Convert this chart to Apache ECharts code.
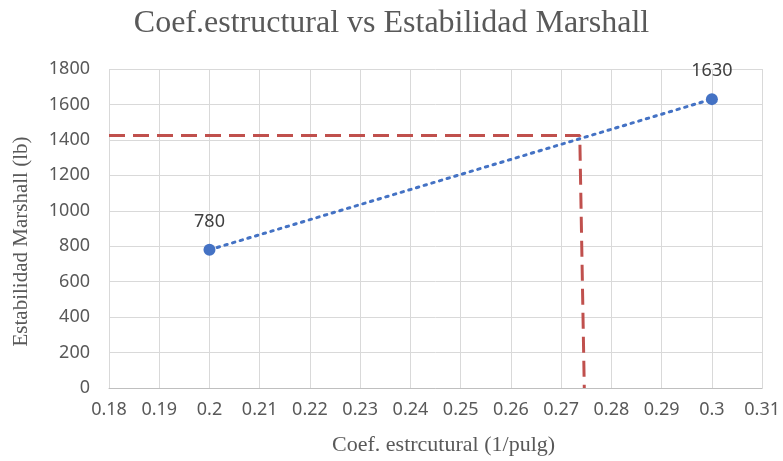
<!DOCTYPE html>
<html>
<head>
<meta charset="utf-8">
<script src="https://cdn.jsdelivr.net/npm/echarts@6/dist/echarts.min.js"></script>
<style>
  html, body { margin: 0; padding: 0; background: #fff; }
  #chart { width: 783px; height: 461px; }
</style>
</head>
<body>
<div id="chart"></div>
<script>
// Measured points: structural coefficient vs Marshall stability
const coefValues = [0.2, 0.3];
const stabilityValues = [780, 1630];

// Reading guide: target stability and the coefficient it maps to
const guideStability = 1425;
const guideCoefTop = 0.2737;
const guideCoefBottom = 0.2746;

// Axis ranges and tick steps
const xMin = 0.18, xMax = 0.31, xStep = 0.01;
const yMin = 0, yMax = 1800, yStep = 200;

const serif = '"Liberation Serif", "Times New Roman", serif';
const sans = '"Noto Sans", "Open Sans", Arial, sans-serif';

const points = coefValues.map((c, i) => [c, stabilityValues[i]]);

const chart = echarts.init(document.getElementById('chart'), null, { renderer: 'canvas' });
chart.setOption({
  animation: false,
  backgroundColor: '#ffffff',
  title: {
    text: 'Coef.estructural vs Estabilidad Marshall',
    left: 'center',
    top: 3,
    textStyle: { fontFamily: serif, fontSize: 32, fontWeight: 'normal', color: '#595959' }
  },
  grid: { left: 109, right: 16, top: 69, bottom: 72 },
  xAxis: {
    type: 'value',
    min: xMin, max: xMax, interval: xStep,
    name: 'Coef. estrcutural (1/pulg)',
    nameLocation: 'middle',
    nameGap: 46,
    nameTextStyle: { fontFamily: serif, fontSize: 22, color: '#595959', padding: [0, 0, 0, 16] },
    axisLine: { show: true, lineStyle: { color: '#bfbfbf', width: 1 } },
    axisTick: { show: false },
    axisLabel: {
      margin: 13, fontFamily: sans, fontSize: 18, color: '#595959',
      formatter: v => String(parseFloat(v.toFixed(2)))
    },
    splitLine: { show: true, lineStyle: { color: '#d9d9d9', width: 1 } }
  },
  yAxis: {
    type: 'value',
    min: yMin, max: yMax, interval: yStep,
    name: 'Estabilidad Marshall (lb)',
    nameLocation: 'middle',
    nameGap: 77,
    nameTextStyle: { fontFamily: serif, fontSize: 21, color: '#595959', padding: [0, 26, 0, 0] },
    axisLine: { show: false },
    axisTick: { show: false },
    axisLabel: {
      margin: 19, fontFamily: sans, fontSize: 18, color: '#595959',
      formatter: v => String(v)
    },
    splitLine: { show: true, lineStyle: { color: '#d9d9d9', width: 1 } }
  },
  series: [
    {
      type: 'line',
      data: [[xMin, guideStability], [guideCoefTop, guideStability], [guideCoefBottom, yMin]],
      symbol: 'none',
      lineStyle: { color: '#c0504d', width: 3, type: [16, 8] },
      z: 2
    },
    {
      type: 'line',
      data: points,
      symbol: 'circle',
      symbolSize: 12,
      itemStyle: { color: '#4472c4' },
      lineStyle: { color: '#4472c4', width: 3, type: [2.5, 5.5], cap: 'round' },
      label: {
        show: true, position: 'top', distance: 13,
        fontFamily: sans, fontSize: 18, color: '#404040',
        formatter: p => String(p.value[1])
      },
      z: 3
    }
  ]
});
</script>
</body>
</html>
